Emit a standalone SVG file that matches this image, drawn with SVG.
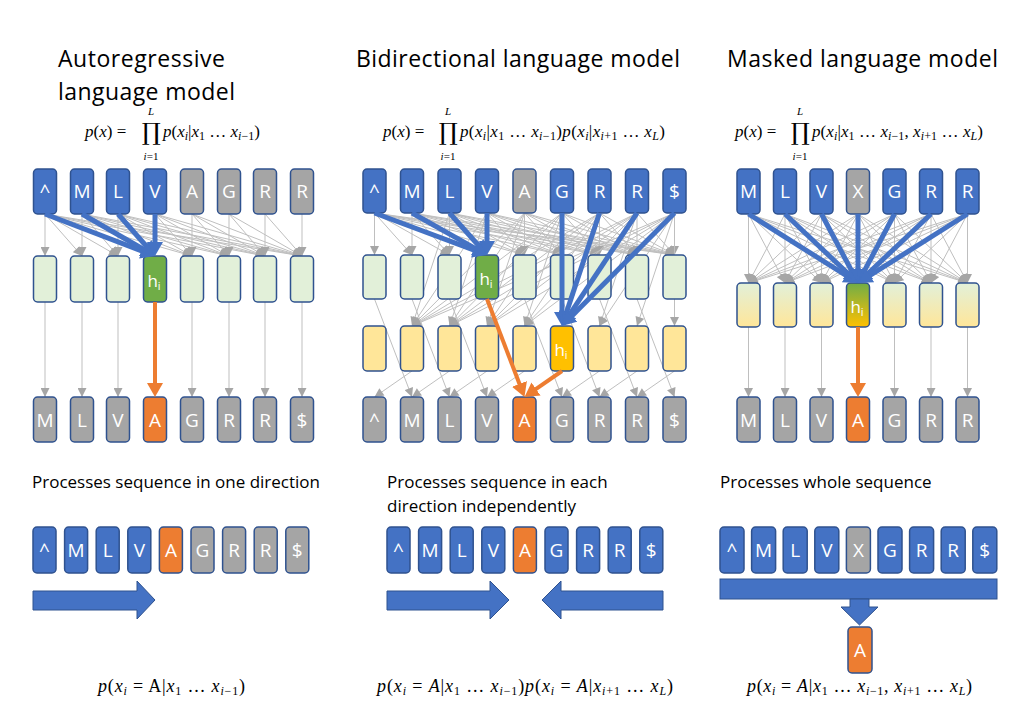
<svg xmlns="http://www.w3.org/2000/svg" width="1030" height="709" viewBox="0 0 1030 709">
<style>
.title{font-family:"Open Sans",sans-serif;font-size:23px;fill:#000}
.sec{font-family:"Open Sans",sans-serif;font-size:17px;fill:#000}
.m{font-family:"Liberation Serif",serif;font-size:17px;fill:#000}
.mb{font-family:"Liberation Serif",serif;font-size:18px;fill:#000}
.it{font-style:italic}
.s{font-size:12px}
.prod{font-family:"DejaVu Serif",serif;font-size:24px;text-anchor:middle}
.lim{font-family:"Liberation Serif",serif;font-size:11px;font-style:italic;text-anchor:middle}
.bx{stroke:#2F528F;stroke-width:1.5}
.b{fill:#4472C4}.g{fill:#A5A5A5}.o{fill:#ED7D31}.lg{fill:#E2F0D9}.dg{fill:#70AD47}.ly{fill:#FFE699}.y{fill:#FFC000}
.gr1{fill:url(#grMid)}.gr2{fill:url(#grH)}
.t{font-family:"Open Sans",sans-serif;font-size:19px;fill:#fff;text-anchor:middle}
.th{font-family:"Open Sans",sans-serif;font-size:17px;fill:#fff;text-anchor:middle}
.e{stroke:#BFBFBF;stroke-width:1;marker-end:url(#ag)}
.eb{stroke:#4472C4;stroke-width:5;marker-end:url(#ab)}
.eo{stroke:#ED7D31;stroke-width:4;marker-end:url(#ao)}
.big{fill:#4472C4;stroke:#2F528F;stroke-width:1}
</style>
<defs>
<marker id="ag" viewBox="0 0 10 10" refX="10" refY="5" markerWidth="10" markerHeight="9" markerUnits="userSpaceOnUse" orient="auto"><path d="M0,0 L10,5 L0,10 z" fill="#A6A6A6"/></marker>
<marker id="ab" viewBox="0 0 14 16" refX="6" refY="8" markerWidth="14" markerHeight="16" markerUnits="userSpaceOnUse" orient="auto"><path d="M0,0 L14,8 L0,16 z" fill="#4472C4"/></marker>
<marker id="ao" viewBox="0 0 14 16" refX="6" refY="8" markerWidth="14" markerHeight="16" markerUnits="userSpaceOnUse" orient="auto"><path d="M0,0 L14,8 L0,16 z" fill="#ED7D31"/></marker>
<linearGradient id="grMid" x1="0" y1="0" x2="0" y2="1"><stop offset="0" stop-color="#E2F0D9"/><stop offset="1" stop-color="#FFE699"/></linearGradient>
<linearGradient id="grH" x1="0" y1="0" x2="0" y2="1"><stop offset="0" stop-color="#70AD47"/><stop offset="1" stop-color="#FFC000"/></linearGradient>
</defs>
<rect width="1030" height="709" fill="#fff"/>

<!-- titles -->
<text class="title" x="58" y="67" textLength="167">Autoregressive</text>
<text class="title" x="58" y="100" textLength="177">language model</text>
<text class="title" x="356" y="67" textLength="324">Bidirectional language model</text>
<text class="title" x="727" y="67" textLength="271">Masked language model</text>

<!-- formulas top -->
<g id="formula-ar">
<text class="m" x="85" y="137"><tspan class="it">p</tspan>(<tspan class="it">x</tspan>) =</text>
<text class="prod" x="151" y="140">∏</text>
<text class="lim" x="151" y="115">L</text>
<text class="lim" x="151" y="160">i<tspan font-style="normal">=1</tspan></text>
<text class="m" x="163" y="137"><tspan class="it">p</tspan>(<tspan class="it">x</tspan><tspan class="s it" dy="3">i</tspan><tspan dy="-3">|</tspan><tspan class="it">x</tspan><tspan class="s" dy="3">1</tspan><tspan dy="-3"> … </tspan><tspan class="it">x</tspan><tspan class="s" dy="3"><tspan class="it">i</tspan>−1</tspan><tspan dy="-3">)</tspan></text>
</g>
<g id="formula-bi">
<text class="m" x="383" y="137"><tspan class="it">p</tspan>(<tspan class="it">x</tspan>) =</text>
<text class="prod" x="448" y="140">∏</text>
<text class="lim" x="448" y="115">L</text>
<text class="lim" x="448" y="160">i<tspan font-style="normal">=1</tspan></text>
<text class="m" x="460" y="137" textLength="205"><tspan class="it">p</tspan>(<tspan class="it">x</tspan><tspan class="s it" dy="3">i</tspan><tspan dy="-3">|</tspan><tspan class="it">x</tspan><tspan class="s" dy="3">1</tspan><tspan dy="-3"> … </tspan><tspan class="it">x</tspan><tspan class="s" dy="3"><tspan class="it">i</tspan>−1</tspan><tspan dy="-3">)</tspan><tspan class="it">p</tspan>(<tspan class="it">x</tspan><tspan class="s it" dy="3">i</tspan><tspan dy="-3">|</tspan><tspan class="it">x</tspan><tspan class="s" dy="3"><tspan class="it">i</tspan>+1</tspan><tspan dy="-3"> … </tspan><tspan class="it">x</tspan><tspan class="s it" dy="3">L</tspan><tspan dy="-3">)</tspan></text>
</g>
<g id="formula-mlm">
<text class="m" x="735" y="137"><tspan class="it">p</tspan>(<tspan class="it">x</tspan>) =</text>
<text class="prod" x="800" y="140">∏</text>
<text class="lim" x="800" y="115">L</text>
<text class="lim" x="800" y="160">i<tspan font-style="normal">=1</tspan></text>
<text class="m" x="812" y="137" textLength="171"><tspan class="it">p</tspan>(<tspan class="it">x</tspan><tspan class="s it" dy="3">i</tspan><tspan dy="-3">|</tspan><tspan class="it">x</tspan><tspan class="s" dy="3">1</tspan><tspan dy="-3"> … </tspan><tspan class="it">x</tspan><tspan class="s" dy="3"><tspan class="it">i</tspan>−1</tspan><tspan dy="-3">, </tspan><tspan class="it">x</tspan><tspan class="s" dy="3"><tspan class="it">i</tspan>+1</tspan><tspan dy="-3"> … </tspan><tspan class="it">x</tspan><tspan class="s it" dy="3">L</tspan><tspan dy="-3">)</tspan></text>
</g>

<g id="connectors-back">
<!-- panel 1 inputs -> hidden -->
<line class="e" x1="45" y1="214" x2="45" y2="256"/><line class="e" x1="45" y1="214" x2="82" y2="256"/><line class="e" x1="45" y1="214" x2="118" y2="256"/><line class="e" x1="45" y1="214" x2="155" y2="256"/><line class="e" x1="45" y1="214" x2="192" y2="256"/><line class="e" x1="45" y1="214" x2="229" y2="256"/><line class="e" x1="45" y1="214" x2="265" y2="256"/><line class="e" x1="45" y1="214" x2="302" y2="256"/>
<line class="e" x1="82" y1="214" x2="82" y2="256"/><line class="e" x1="82" y1="214" x2="118" y2="256"/><line class="e" x1="82" y1="214" x2="155" y2="256"/><line class="e" x1="82" y1="214" x2="192" y2="256"/><line class="e" x1="82" y1="214" x2="229" y2="256"/><line class="e" x1="82" y1="214" x2="265" y2="256"/><line class="e" x1="82" y1="214" x2="302" y2="256"/>
<line class="e" x1="118" y1="214" x2="118" y2="256"/><line class="e" x1="118" y1="214" x2="155" y2="256"/><line class="e" x1="118" y1="214" x2="192" y2="256"/><line class="e" x1="118" y1="214" x2="229" y2="256"/><line class="e" x1="118" y1="214" x2="265" y2="256"/><line class="e" x1="118" y1="214" x2="302" y2="256"/>
<line class="e" x1="155" y1="214" x2="192" y2="256"/><line class="e" x1="155" y1="214" x2="229" y2="256"/><line class="e" x1="155" y1="214" x2="265" y2="256"/><line class="e" x1="155" y1="214" x2="302" y2="256"/>
<line class="e" x1="192" y1="214" x2="192" y2="256"/><line class="e" x1="192" y1="214" x2="229" y2="256"/><line class="e" x1="192" y1="214" x2="265" y2="256"/><line class="e" x1="192" y1="214" x2="302" y2="256"/>
<line class="e" x1="229" y1="214" x2="229" y2="256"/><line class="e" x1="229" y1="214" x2="265" y2="256"/><line class="e" x1="229" y1="214" x2="302" y2="256"/>
<line class="e" x1="265" y1="214" x2="265" y2="256"/><line class="e" x1="265" y1="214" x2="302" y2="256"/>
<line class="e" x1="302" y1="214" x2="302" y2="256"/>
<!-- panel 1 hidden -> outputs -->
<line class="e" x1="45" y1="302" x2="45" y2="397"/><line class="e" x1="82" y1="302" x2="82" y2="397"/><line class="e" x1="118" y1="302" x2="118" y2="397"/><line class="e" x1="192" y1="302" x2="192" y2="397"/><line class="e" x1="229" y1="302" x2="229" y2="397"/><line class="e" x1="265" y1="302" x2="265" y2="397"/><line class="e" x1="302" y1="302" x2="302" y2="397"/>

<!-- panel 2 inputs -> forward hidden -->
<line class="e" x1="374.5" y1="213" x2="374.5" y2="255"/><line class="e" x1="374.5" y1="213" x2="412" y2="255"/><line class="e" x1="374.5" y1="213" x2="449.5" y2="255"/><line class="e" x1="374.5" y1="213" x2="487" y2="255"/><line class="e" x1="374.5" y1="213" x2="524.5" y2="255"/><line class="e" x1="374.5" y1="213" x2="562" y2="255"/><line class="e" x1="374.5" y1="213" x2="599.5" y2="255"/><line class="e" x1="374.5" y1="213" x2="637" y2="255"/><line class="e" x1="374.5" y1="213" x2="674.5" y2="255"/>
<line class="e" x1="412" y1="213" x2="412" y2="255"/><line class="e" x1="412" y1="213" x2="449.5" y2="255"/><line class="e" x1="412" y1="213" x2="487" y2="255"/><line class="e" x1="412" y1="213" x2="524.5" y2="255"/><line class="e" x1="412" y1="213" x2="562" y2="255"/><line class="e" x1="412" y1="213" x2="599.5" y2="255"/><line class="e" x1="412" y1="213" x2="637" y2="255"/><line class="e" x1="412" y1="213" x2="674.5" y2="255"/>
<line class="e" x1="449.5" y1="213" x2="449.5" y2="255"/><line class="e" x1="449.5" y1="213" x2="487" y2="255"/><line class="e" x1="449.5" y1="213" x2="524.5" y2="255"/><line class="e" x1="449.5" y1="213" x2="562" y2="255"/><line class="e" x1="449.5" y1="213" x2="599.5" y2="255"/><line class="e" x1="449.5" y1="213" x2="637" y2="255"/><line class="e" x1="449.5" y1="213" x2="674.5" y2="255"/>
<line class="e" x1="487" y1="213" x2="524.5" y2="255"/><line class="e" x1="487" y1="213" x2="562" y2="255"/><line class="e" x1="487" y1="213" x2="599.5" y2="255"/><line class="e" x1="487" y1="213" x2="637" y2="255"/><line class="e" x1="487" y1="213" x2="674.5" y2="255"/>
<line class="e" x1="524.5" y1="213" x2="524.5" y2="255"/><line class="e" x1="524.5" y1="213" x2="562" y2="255"/><line class="e" x1="524.5" y1="213" x2="599.5" y2="255"/><line class="e" x1="524.5" y1="213" x2="637" y2="255"/><line class="e" x1="524.5" y1="213" x2="674.5" y2="255"/>
<line class="e" x1="562" y1="213" x2="599.5" y2="255"/><line class="e" x1="562" y1="213" x2="637" y2="255"/><line class="e" x1="562" y1="213" x2="674.5" y2="255"/>
<line class="e" x1="599.5" y1="213" x2="599.5" y2="255"/><line class="e" x1="599.5" y1="213" x2="637" y2="255"/><line class="e" x1="599.5" y1="213" x2="674.5" y2="255"/>
<line class="e" x1="637" y1="213" x2="637" y2="255"/><line class="e" x1="637" y1="213" x2="674.5" y2="255"/>
<line class="e" x1="674.5" y1="213" x2="674.5" y2="255"/>
<!-- panel 2 inputs -> backward hidden -->
<line class="e" x1="449.5" y1="213" x2="412" y2="326"/><line class="e" x1="487" y1="213" x2="412" y2="326"/><line class="e" x1="524.5" y1="213" x2="412" y2="326"/><line class="e" x1="562" y1="213" x2="412" y2="326"/><line class="e" x1="599.5" y1="213" x2="412" y2="326"/><line class="e" x1="637" y1="213" x2="412" y2="326"/><line class="e" x1="674.5" y1="213" x2="412" y2="326"/>
<line class="e" x1="487" y1="213" x2="449.5" y2="326"/><line class="e" x1="524.5" y1="213" x2="449.5" y2="326"/><line class="e" x1="562" y1="213" x2="449.5" y2="326"/><line class="e" x1="599.5" y1="213" x2="449.5" y2="326"/><line class="e" x1="637" y1="213" x2="449.5" y2="326"/><line class="e" x1="674.5" y1="213" x2="449.5" y2="326"/>
<line class="e" x1="524.5" y1="213" x2="487" y2="326"/><line class="e" x1="562" y1="213" x2="487" y2="326"/><line class="e" x1="599.5" y1="213" x2="487" y2="326"/><line class="e" x1="637" y1="213" x2="487" y2="326"/><line class="e" x1="674.5" y1="213" x2="487" y2="326"/>
<line class="e" x1="562" y1="213" x2="524.5" y2="326"/><line class="e" x1="599.5" y1="213" x2="524.5" y2="326"/><line class="e" x1="637" y1="213" x2="524.5" y2="326"/><line class="e" x1="674.5" y1="213" x2="524.5" y2="326"/>
<line class="e" x1="637" y1="213" x2="599.5" y2="326"/><line class="e" x1="674.5" y1="213" x2="599.5" y2="326"/>
<line class="e" x1="674.5" y1="213" x2="637" y2="326"/>
<line class="e" x1="674.5" y1="213" x2="674.5" y2="326"/>
<!-- panel 2 hidden -> outputs -->
<line class="e" x1="374.5" y1="299" x2="412" y2="397"/><line class="e" x1="412" y1="299" x2="449.5" y2="397"/><line class="e" x1="449.5" y1="299" x2="487" y2="397"/><line class="e" x1="524.5" y1="299" x2="562" y2="397"/><line class="e" x1="562" y1="299" x2="599.5" y2="397"/><line class="e" x1="599.5" y1="299" x2="637" y2="397"/><line class="e" x1="637" y1="299" x2="674.5" y2="397"/>
<line class="e" x1="412" y1="371" x2="374.5" y2="397"/><line class="e" x1="449.5" y1="371" x2="412" y2="397"/><line class="e" x1="487" y1="371" x2="449.5" y2="397"/><line class="e" x1="524.5" y1="371" x2="487" y2="397"/><line class="e" x1="599.5" y1="371" x2="562" y2="397"/><line class="e" x1="637" y1="371" x2="599.5" y2="397"/><line class="e" x1="674.5" y1="371" x2="637" y2="397"/>

<!-- panel 3 inputs -> hidden (all to all) -->
<line class="e" x1="748.5" y1="214" x2="748.5" y2="283"/><line class="e" x1="748.5" y1="214" x2="785" y2="283"/><line class="e" x1="748.5" y1="214" x2="821.5" y2="283"/><line class="e" x1="748.5" y1="214" x2="894.5" y2="283"/><line class="e" x1="748.5" y1="214" x2="931" y2="283"/><line class="e" x1="748.5" y1="214" x2="967.5" y2="283"/>
<line class="e" x1="785" y1="214" x2="748.5" y2="283"/><line class="e" x1="785" y1="214" x2="785" y2="283"/><line class="e" x1="785" y1="214" x2="821.5" y2="283"/><line class="e" x1="785" y1="214" x2="894.5" y2="283"/><line class="e" x1="785" y1="214" x2="931" y2="283"/><line class="e" x1="785" y1="214" x2="967.5" y2="283"/>
<line class="e" x1="821.5" y1="214" x2="748.5" y2="283"/><line class="e" x1="821.5" y1="214" x2="785" y2="283"/><line class="e" x1="821.5" y1="214" x2="821.5" y2="283"/><line class="e" x1="821.5" y1="214" x2="894.5" y2="283"/><line class="e" x1="821.5" y1="214" x2="931" y2="283"/><line class="e" x1="821.5" y1="214" x2="967.5" y2="283"/>
<line class="e" x1="858" y1="214" x2="748.5" y2="283"/><line class="e" x1="858" y1="214" x2="785" y2="283"/><line class="e" x1="858" y1="214" x2="821.5" y2="283"/><line class="e" x1="858" y1="214" x2="894.5" y2="283"/><line class="e" x1="858" y1="214" x2="931" y2="283"/><line class="e" x1="858" y1="214" x2="967.5" y2="283"/>
<line class="e" x1="894.5" y1="214" x2="748.5" y2="283"/><line class="e" x1="894.5" y1="214" x2="785" y2="283"/><line class="e" x1="894.5" y1="214" x2="821.5" y2="283"/><line class="e" x1="894.5" y1="214" x2="894.5" y2="283"/><line class="e" x1="894.5" y1="214" x2="931" y2="283"/><line class="e" x1="894.5" y1="214" x2="967.5" y2="283"/>
<line class="e" x1="931" y1="214" x2="748.5" y2="283"/><line class="e" x1="931" y1="214" x2="785" y2="283"/><line class="e" x1="931" y1="214" x2="821.5" y2="283"/><line class="e" x1="931" y1="214" x2="894.5" y2="283"/><line class="e" x1="931" y1="214" x2="931" y2="283"/><line class="e" x1="931" y1="214" x2="967.5" y2="283"/>
<line class="e" x1="967.5" y1="214" x2="748.5" y2="283"/><line class="e" x1="967.5" y1="214" x2="785" y2="283"/><line class="e" x1="967.5" y1="214" x2="821.5" y2="283"/><line class="e" x1="967.5" y1="214" x2="894.5" y2="283"/><line class="e" x1="967.5" y1="214" x2="931" y2="283"/><line class="e" x1="967.5" y1="214" x2="967.5" y2="283"/>
<!-- panel 3 hidden -> outputs -->
<line class="e" x1="748.5" y1="327" x2="748.5" y2="397"/><line class="e" x1="785" y1="327" x2="785" y2="397"/><line class="e" x1="821.5" y1="327" x2="821.5" y2="397"/><line class="e" x1="894.5" y1="327" x2="894.5" y2="397"/><line class="e" x1="931" y1="327" x2="931" y2="397"/><line class="e" x1="967.5" y1="327" x2="967.5" y2="397"/>
</g>

<!-- ===== Panel 1 nodes ===== -->
<g id="ar-in-0"><rect class="bx b" x="33.5" y="169" width="23" height="45" rx="4"/><text class="t" x="45" y="198">^</text></g>
<g id="ar-in-1"><rect class="bx b" x="70.5" y="169" width="23" height="45" rx="4"/><text class="t" x="82" y="198">M</text></g>
<g id="ar-in-2"><rect class="bx b" x="106.5" y="169" width="23" height="45" rx="4"/><text class="t" x="118" y="198">L</text></g>
<g id="ar-in-3"><rect class="bx b" x="143.5" y="169" width="23" height="45" rx="4"/><text class="t" x="155" y="198">V</text></g>
<g id="ar-in-4"><rect class="bx g" x="180.5" y="169" width="23" height="45" rx="4"/><text class="t" x="192" y="198">A</text></g>
<g id="ar-in-5"><rect class="bx g" x="217.5" y="169" width="23" height="45" rx="4"/><text class="t" x="229" y="198">G</text></g>
<g id="ar-in-6"><rect class="bx g" x="253.5" y="169" width="23" height="45" rx="4"/><text class="t" x="265" y="198">R</text></g>
<g id="ar-in-7"><rect class="bx g" x="290.5" y="169" width="23" height="45" rx="4"/><text class="t" x="302" y="198">R</text></g>

<g id="ar-h-0"><rect class="bx lg" x="33.5" y="256" width="23" height="46" rx="4"/></g>
<g id="ar-h-1"><rect class="bx lg" x="70.5" y="256" width="23" height="46" rx="4"/></g>
<g id="ar-h-2"><rect class="bx lg" x="106.5" y="256" width="23" height="46" rx="4"/></g>
<g id="ar-h-3"><rect class="bx dg" x="143.5" y="256" width="23" height="46" rx="4"/><text class="th" x="154" y="287">h<tspan font-size="11px" dy="3">i</tspan></text></g>
<g id="ar-h-4"><rect class="bx lg" x="180.5" y="256" width="23" height="46" rx="4"/></g>
<g id="ar-h-5"><rect class="bx lg" x="217.5" y="256" width="23" height="46" rx="4"/></g>
<g id="ar-h-6"><rect class="bx lg" x="253.5" y="256" width="23" height="46" rx="4"/></g>
<g id="ar-h-7"><rect class="bx lg" x="290.5" y="256" width="23" height="46" rx="4"/></g>

<g id="ar-out-0"><rect class="bx g" x="33.5" y="397" width="23" height="45" rx="4"/><text class="t" x="45" y="427">M</text></g>
<g id="ar-out-1"><rect class="bx g" x="70.5" y="397" width="23" height="45" rx="4"/><text class="t" x="82" y="427">L</text></g>
<g id="ar-out-2"><rect class="bx g" x="106.5" y="397" width="23" height="45" rx="4"/><text class="t" x="118" y="427">V</text></g>
<g id="ar-out-3"><rect class="bx o" x="143.5" y="397" width="23" height="45" rx="4"/><text class="t" x="155" y="427">A</text></g>
<g id="ar-out-4"><rect class="bx g" x="180.5" y="397" width="23" height="45" rx="4"/><text class="t" x="192" y="427">G</text></g>
<g id="ar-out-5"><rect class="bx g" x="217.5" y="397" width="23" height="45" rx="4"/><text class="t" x="229" y="427">R</text></g>
<g id="ar-out-6"><rect class="bx g" x="253.5" y="397" width="23" height="45" rx="4"/><text class="t" x="265" y="427">R</text></g>
<g id="ar-out-7"><rect class="bx g" x="290.5" y="397" width="23" height="45" rx="4"/><text class="t" x="302" y="427">$</text></g>

<!-- ===== Panel 2 nodes ===== -->
<g id="bi-in-0"><rect class="bx b" x="363" y="169" width="23" height="44" rx="4"/><text class="t" x="374.5" y="198">^</text></g>
<g id="bi-in-1"><rect class="bx b" x="400.5" y="169" width="23" height="44" rx="4"/><text class="t" x="412" y="198">M</text></g>
<g id="bi-in-2"><rect class="bx b" x="438" y="169" width="23" height="44" rx="4"/><text class="t" x="449.5" y="198">L</text></g>
<g id="bi-in-3"><rect class="bx b" x="475.5" y="169" width="23" height="44" rx="4"/><text class="t" x="487" y="198">V</text></g>
<g id="bi-in-4"><rect class="bx g" x="513" y="169" width="23" height="44" rx="4"/><text class="t" x="524.5" y="198">A</text></g>
<g id="bi-in-5"><rect class="bx b" x="550.5" y="169" width="23" height="44" rx="4"/><text class="t" x="562" y="198">G</text></g>
<g id="bi-in-6"><rect class="bx b" x="588" y="169" width="23" height="44" rx="4"/><text class="t" x="599.5" y="198">R</text></g>
<g id="bi-in-7"><rect class="bx b" x="625.5" y="169" width="23" height="44" rx="4"/><text class="t" x="637" y="198">R</text></g>
<g id="bi-in-8"><rect class="bx b" x="663" y="169" width="23" height="44" rx="4"/><text class="t" x="674.5" y="198">$</text></g>

<g id="bi-f-0"><rect class="bx lg" x="363" y="255" width="23" height="44" rx="4"/></g>
<g id="bi-f-1"><rect class="bx lg" x="400.5" y="255" width="23" height="44" rx="4"/></g>
<g id="bi-f-2"><rect class="bx lg" x="438" y="255" width="23" height="44" rx="4"/></g>
<g id="bi-f-3"><rect class="bx dg" x="475.5" y="255" width="23" height="44" rx="4"/><text class="th" x="486" y="285">h<tspan font-size="11px" dy="3">i</tspan></text></g>
<g id="bi-f-4"><rect class="bx lg" x="513" y="255" width="23" height="44" rx="4"/></g>
<g id="bi-f-5"><rect class="bx lg" x="550.5" y="255" width="23" height="44" rx="4"/></g>
<g id="bi-f-6"><rect class="bx lg" x="588" y="255" width="23" height="44" rx="4"/></g>
<g id="bi-f-7"><rect class="bx lg" x="625.5" y="255" width="23" height="44" rx="4"/></g>
<g id="bi-f-8"><rect class="bx lg" x="663" y="255" width="23" height="44" rx="4"/></g>

<g id="bi-b-0"><rect class="bx ly" x="363" y="326" width="23" height="45" rx="4"/></g>
<g id="bi-b-1"><rect class="bx ly" x="400.5" y="326" width="23" height="45" rx="4"/></g>
<g id="bi-b-2"><rect class="bx ly" x="438" y="326" width="23" height="45" rx="4"/></g>
<g id="bi-b-3"><rect class="bx ly" x="475.5" y="326" width="23" height="45" rx="4"/></g>
<g id="bi-b-4"><rect class="bx ly" x="513" y="326" width="23" height="45" rx="4"/></g>
<g id="bi-b-5"><rect class="bx y" x="550.5" y="326" width="23" height="45" rx="4"/><text class="th" x="561" y="356">h<tspan font-size="11px" dy="3">i</tspan></text></g>
<g id="bi-b-6"><rect class="bx ly" x="588" y="326" width="23" height="45" rx="4"/></g>
<g id="bi-b-7"><rect class="bx ly" x="625.5" y="326" width="23" height="45" rx="4"/></g>
<g id="bi-b-8"><rect class="bx ly" x="663" y="326" width="23" height="45" rx="4"/></g>

<g id="bi-out-0"><rect class="bx g" x="363" y="397" width="23" height="45" rx="4"/><text class="t" x="374.5" y="427">^</text></g>
<g id="bi-out-1"><rect class="bx g" x="400.5" y="397" width="23" height="45" rx="4"/><text class="t" x="412" y="427">M</text></g>
<g id="bi-out-2"><rect class="bx g" x="438" y="397" width="23" height="45" rx="4"/><text class="t" x="449.5" y="427">L</text></g>
<g id="bi-out-3"><rect class="bx g" x="475.5" y="397" width="23" height="45" rx="4"/><text class="t" x="487" y="427">V</text></g>
<g id="bi-out-4"><rect class="bx o" x="513" y="397" width="23" height="45" rx="4"/><text class="t" x="524.5" y="427">A</text></g>
<g id="bi-out-5"><rect class="bx g" x="550.5" y="397" width="23" height="45" rx="4"/><text class="t" x="562" y="427">G</text></g>
<g id="bi-out-6"><rect class="bx g" x="588" y="397" width="23" height="45" rx="4"/><text class="t" x="599.5" y="427">R</text></g>
<g id="bi-out-7"><rect class="bx g" x="625.5" y="397" width="23" height="45" rx="4"/><text class="t" x="637" y="427">R</text></g>
<g id="bi-out-8"><rect class="bx g" x="663" y="397" width="23" height="45" rx="4"/><text class="t" x="674.5" y="427">$</text></g>

<!-- ===== Panel 3 nodes ===== -->
<g id="ml-in-0"><rect class="bx b" x="737" y="169" width="23" height="45" rx="4"/><text class="t" x="748.5" y="198">M</text></g>
<g id="ml-in-1"><rect class="bx b" x="773.5" y="169" width="23" height="45" rx="4"/><text class="t" x="785" y="198">L</text></g>
<g id="ml-in-2"><rect class="bx b" x="810" y="169" width="23" height="45" rx="4"/><text class="t" x="821.5" y="198">V</text></g>
<g id="ml-in-3"><rect class="bx g" x="846.5" y="169" width="23" height="45" rx="4"/><text class="t" x="858" y="198">X</text></g>
<g id="ml-in-4"><rect class="bx b" x="883" y="169" width="23" height="45" rx="4"/><text class="t" x="894.5" y="198">G</text></g>
<g id="ml-in-5"><rect class="bx b" x="919.5" y="169" width="23" height="45" rx="4"/><text class="t" x="931" y="198">R</text></g>
<g id="ml-in-6"><rect class="bx b" x="956" y="169" width="23" height="45" rx="4"/><text class="t" x="967.5" y="198">R</text></g>

<g id="ml-h-0"><rect class="bx gr1" x="737" y="283" width="23" height="44" rx="4"/></g>
<g id="ml-h-1"><rect class="bx gr1" x="773.5" y="283" width="23" height="44" rx="4"/></g>
<g id="ml-h-2"><rect class="bx gr1" x="810" y="283" width="23" height="44" rx="4"/></g>
<g id="ml-h-3"><rect class="bx gr2" x="846.5" y="283" width="23" height="44" rx="4"/><text class="th" x="857" y="313">h<tspan font-size="11px" dy="3">i</tspan></text></g>
<g id="ml-h-4"><rect class="bx gr1" x="883" y="283" width="23" height="44" rx="4"/></g>
<g id="ml-h-5"><rect class="bx gr1" x="919.5" y="283" width="23" height="44" rx="4"/></g>
<g id="ml-h-6"><rect class="bx gr1" x="956" y="283" width="23" height="44" rx="4"/></g>

<g id="ml-out-0"><rect class="bx g" x="737" y="397" width="23" height="45" rx="4"/><text class="t" x="748.5" y="427">M</text></g>
<g id="ml-out-1"><rect class="bx g" x="773.5" y="397" width="23" height="45" rx="4"/><text class="t" x="785" y="427">L</text></g>
<g id="ml-out-2"><rect class="bx g" x="810" y="397" width="23" height="45" rx="4"/><text class="t" x="821.5" y="427">V</text></g>
<g id="ml-out-3"><rect class="bx o" x="846.5" y="397" width="23" height="45" rx="4"/><text class="t" x="858" y="427">A</text></g>
<g id="ml-out-4"><rect class="bx g" x="883" y="397" width="23" height="45" rx="4"/><text class="t" x="894.5" y="427">G</text></g>
<g id="ml-out-5"><rect class="bx g" x="919.5" y="397" width="23" height="45" rx="4"/><text class="t" x="931" y="427">R</text></g>
<g id="ml-out-6"><rect class="bx g" x="956" y="397" width="23" height="45" rx="4"/><text class="t" x="967.5" y="427">R</text></g>

<g id="connectors-front">
<line class="eb" x1="45" y1="214" x2="147.5" y2="253.1"/>
<line class="eb" x1="82" y1="214" x2="148.1" y2="252"/>
<line class="eb" x1="118" y1="214" x2="149.7" y2="250"/>
<line class="eb" x1="155" y1="214" x2="155" y2="248"/>
<line class="eo" x1="155" y1="302" x2="155" y2="389"/>

<line class="eb" x1="374.5" y1="213" x2="479.5" y2="252.2"/>
<line class="eb" x1="412" y1="213" x2="480" y2="251.1"/>
<line class="eb" x1="449.5" y1="213" x2="481.7" y2="249"/>
<line class="eb" x1="487" y1="213" x2="487" y2="247"/>
<line class="eb" x1="562" y1="213" x2="562" y2="318"/>
<line class="eb" x1="599.5" y1="213" x2="564.5" y2="318.4"/>
<line class="eb" x1="637" y1="213" x2="566.4" y2="319.3"/>
<line class="eb" x1="674.5" y1="213" x2="567.6" y2="320.3"/>
<line class="eo" x1="487" y1="299" x2="521.6" y2="389.5"/>
<line class="eo" x1="562" y1="371" x2="531.1" y2="392.4"/>

<line class="eb" x1="748.5" y1="214" x2="851.2" y2="278.7"/>
<line class="eb" x1="785" y1="214" x2="852.2" y2="277.5"/>
<line class="eb" x1="821.5" y1="214" x2="854.3" y2="275.9"/>
<line class="eb" x1="858" y1="214" x2="858" y2="275"/>
<line class="eb" x1="894.5" y1="214" x2="861.7" y2="275.9"/>
<line class="eb" x1="931" y1="214" x2="863.8" y2="277.5"/>
<line class="eb" x1="967.5" y1="214" x2="864.8" y2="278.7"/>
<line class="eo" x1="858" y1="327" x2="858" y2="389"/>
</g>

<!-- section captions -->
<text class="sec" x="32" y="488">Processes sequence in one direction</text>
<text class="sec" x="387" y="488">Processes sequence in each</text>
<text class="sec" x="387" y="512">direction independently</text>
<text class="sec" x="720" y="488">Processes whole sequence</text>

<!-- lower sequences panel 1 -->
<g id="ar-seq-0"><rect class="bx b" x="33" y="527" width="23" height="46" rx="4"/><text class="t" x="44.5" y="557">^</text></g>
<g id="ar-seq-1"><rect class="bx b" x="64.6" y="527" width="23" height="46" rx="4"/><text class="t" x="76.1" y="557">M</text></g>
<g id="ar-seq-2"><rect class="bx b" x="96.2" y="527" width="23" height="46" rx="4"/><text class="t" x="107.7" y="557">L</text></g>
<g id="ar-seq-3"><rect class="bx b" x="127.8" y="527" width="23" height="46" rx="4"/><text class="t" x="139.3" y="557">V</text></g>
<g id="ar-seq-4"><rect class="bx o" x="159.4" y="527" width="23" height="46" rx="4"/><text class="t" x="170.9" y="557">A</text></g>
<g id="ar-seq-5"><rect class="bx g" x="191" y="527" width="23" height="46" rx="4"/><text class="t" x="202.5" y="557">G</text></g>
<g id="ar-seq-6"><rect class="bx g" x="222.6" y="527" width="23" height="46" rx="4"/><text class="t" x="234.1" y="557">R</text></g>
<g id="ar-seq-7"><rect class="bx g" x="254.2" y="527" width="23" height="46" rx="4"/><text class="t" x="265.7" y="557">R</text></g>
<g id="ar-seq-8"><rect class="bx g" x="285.8" y="527" width="23" height="46" rx="4"/><text class="t" x="297.3" y="557">$</text></g>
<g id="ar-arrow"><polygon class="big" points="33,591 137,591 137,581 155,600 137,619 137,610 33,610"/></g>

<!-- lower sequences panel 2 -->
<g id="bi-seq-0"><rect class="bx b" x="387" y="527" width="23" height="46" rx="4"/><text class="t" x="398.5" y="557">^</text></g>
<g id="bi-seq-1"><rect class="bx b" x="418.6" y="527" width="23" height="46" rx="4"/><text class="t" x="430.1" y="557">M</text></g>
<g id="bi-seq-2"><rect class="bx b" x="450.2" y="527" width="23" height="46" rx="4"/><text class="t" x="461.7" y="557">L</text></g>
<g id="bi-seq-3"><rect class="bx b" x="481.8" y="527" width="23" height="46" rx="4"/><text class="t" x="493.3" y="557">V</text></g>
<g id="bi-seq-4"><rect class="bx o" x="513.4" y="527" width="23" height="46" rx="4"/><text class="t" x="524.9" y="557">A</text></g>
<g id="bi-seq-5"><rect class="bx b" x="545" y="527" width="23" height="46" rx="4"/><text class="t" x="556.5" y="557">G</text></g>
<g id="bi-seq-6"><rect class="bx b" x="576.6" y="527" width="23" height="46" rx="4"/><text class="t" x="588.1" y="557">R</text></g>
<g id="bi-seq-7"><rect class="bx b" x="608.2" y="527" width="23" height="46" rx="4"/><text class="t" x="619.7" y="557">R</text></g>
<g id="bi-seq-8"><rect class="bx b" x="639.8" y="527" width="23" height="46" rx="4"/><text class="t" x="651.3" y="557">$</text></g>
<g id="bi-arrow-right"><polygon class="big" points="387,591 490,591 490,581 509,600 490,619 490,610 387,610"/></g>
<g id="bi-arrow-left"><polygon class="big" points="663,591 561,591 561,581 542,600 561,619 561,610 663,610"/></g>

<!-- lower sequences panel 3 -->
<g id="ml-seq-0"><rect class="bx b" x="720" y="527" width="24" height="46" rx="4"/><text class="t" x="732" y="557">^</text></g>
<g id="ml-seq-1"><rect class="bx b" x="751.6" y="527" width="24" height="46" rx="4"/><text class="t" x="763.6" y="557">M</text></g>
<g id="ml-seq-2"><rect class="bx b" x="783.2" y="527" width="24" height="46" rx="4"/><text class="t" x="795.2" y="557">L</text></g>
<g id="ml-seq-3"><rect class="bx b" x="814.8" y="527" width="24" height="46" rx="4"/><text class="t" x="826.8" y="557">V</text></g>
<g id="ml-seq-4"><rect class="bx g" x="846.4" y="527" width="24" height="46" rx="4"/><text class="t" x="858.4" y="557">X</text></g>
<g id="ml-seq-5"><rect class="bx b" x="878" y="527" width="24" height="46" rx="4"/><text class="t" x="890" y="557">G</text></g>
<g id="ml-seq-6"><rect class="bx b" x="909.6" y="527" width="24" height="46" rx="4"/><text class="t" x="921.6" y="557">R</text></g>
<g id="ml-seq-7"><rect class="bx b" x="941.2" y="527" width="24" height="46" rx="4"/><text class="t" x="953.2" y="557">R</text></g>
<g id="ml-seq-8"><rect class="bx b" x="972.8" y="527" width="24" height="46" rx="4"/><text class="t" x="984.8" y="557">$</text></g>
<g id="ml-bar"><rect class="big" x="720" y="579" width="277" height="20"/></g>
<g id="ml-arrow-down"><polygon class="big" points="850,599 869,599 869,607 878,607 859.5,625 841,607 850,607"/></g>
<g id="ml-out"><rect class="bx o" x="848" y="627" width="24" height="46" rx="4"/><text class="t" x="860" y="657">A</text></g>

<!-- bottom formulas -->
<g id="formula-bottom">
<text class="mb" x="98" y="692" textLength="147"><tspan class="it">p</tspan>(<tspan class="it">x</tspan><tspan class="s it" dy="3">i</tspan><tspan dy="-3"> = A|</tspan><tspan class="it">x</tspan><tspan class="s" dy="3">1</tspan><tspan dy="-3"> … </tspan><tspan class="it">x</tspan><tspan class="s" dy="3"><tspan class="it">i</tspan>−1</tspan><tspan dy="-3">)</tspan></text>
<text class="mb" x="377" y="692" textLength="296"><tspan class="it">p</tspan>(<tspan class="it">x</tspan><tspan class="s it" dy="3">i</tspan><tspan dy="-3"> = </tspan><tspan class="it">A</tspan>|<tspan class="it">x</tspan><tspan class="s" dy="3">1</tspan><tspan dy="-3"> … </tspan><tspan class="it">x</tspan><tspan class="s" dy="3"><tspan class="it">i</tspan>−1</tspan><tspan dy="-3">)</tspan><tspan class="it">p</tspan>(<tspan class="it">x</tspan><tspan class="s it" dy="3">i</tspan><tspan dy="-3"> = </tspan><tspan class="it">A</tspan>|<tspan class="it">x</tspan><tspan class="s" dy="3"><tspan class="it">i</tspan>+1</tspan><tspan dy="-3"> … </tspan><tspan class="it">x</tspan><tspan class="s it" dy="3">L</tspan><tspan dy="-3">)</tspan></text>
<text class="mb" x="747" y="692" textLength="225"><tspan class="it">p</tspan>(<tspan class="it">x</tspan><tspan class="s it" dy="3">i</tspan><tspan dy="-3"> = </tspan><tspan class="it">A</tspan>|<tspan class="it">x</tspan><tspan class="s" dy="3">1</tspan><tspan dy="-3"> … </tspan><tspan class="it">x</tspan><tspan class="s" dy="3"><tspan class="it">i</tspan>−1</tspan><tspan dy="-3">, </tspan><tspan class="it">x</tspan><tspan class="s" dy="3"><tspan class="it">i</tspan>+1</tspan><tspan dy="-3"> … </tspan><tspan class="it">x</tspan><tspan class="s it" dy="3">L</tspan><tspan dy="-3">)</tspan></text>
</g>
</svg>
